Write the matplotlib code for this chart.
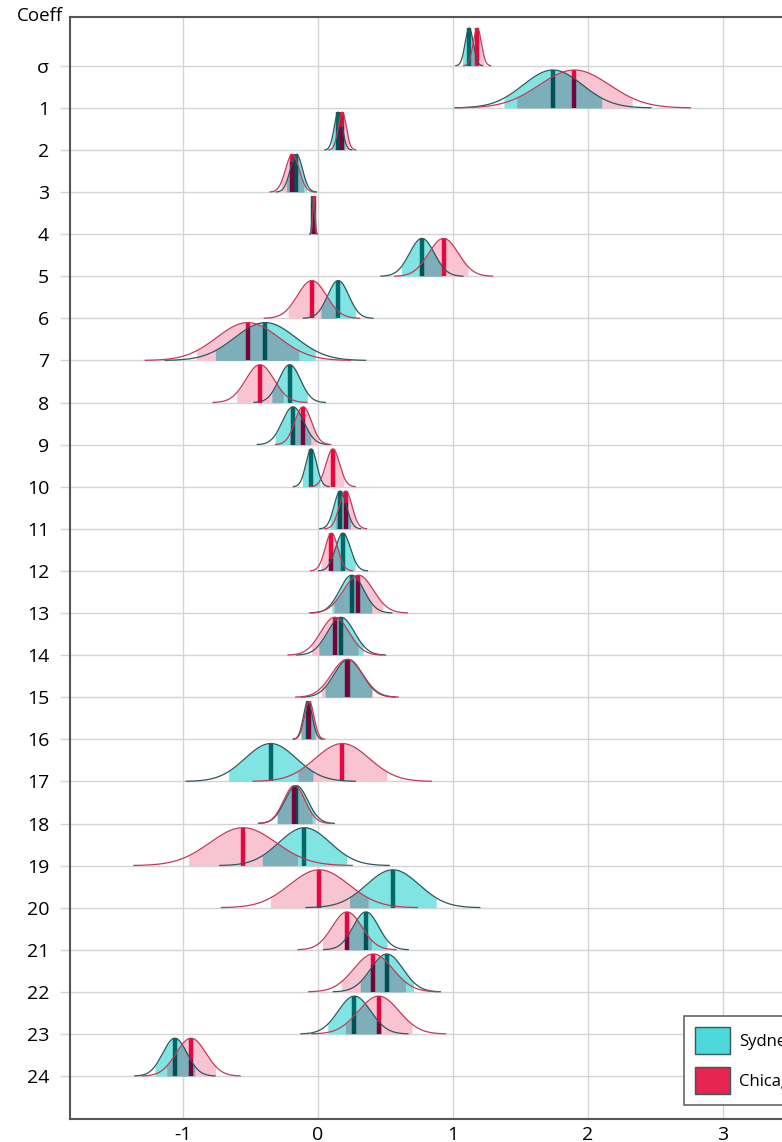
import numpy as np
import matplotlib.pyplot as plt
from matplotlib.patches import Patch

plt.rcParams['font.family'] = ['Open Sans', 'DejaVu Sans']

# Coeficientes (fila 0 = sigma)
coef_labels = ["σ"] + [str(i) for i in range(1, 25)]

# Sydney: mediana y desviación
sydney_median = [1.12, 1.74, 0.15, -0.16, -0.035, 0.77, 0.15, -0.39, -0.21, -0.185,
                 -0.05, 0.165, 0.185, 0.25, 0.17, 0.225, -0.075, -0.35, -0.16, -0.10,
                 0.555, 0.355, 0.51, 0.27, -1.06]
sydney_sd = [0.03, 0.22, 0.03, 0.045, 0.008, 0.092, 0.078, 0.225, 0.08, 0.08,
             0.04, 0.046, 0.055, 0.09, 0.10, 0.105, 0.033, 0.19, 0.085, 0.19,
             0.195, 0.095, 0.12, 0.12, 0.09]

# Chicago
chicago_median = [1.18, 1.90, 0.18, -0.19, -0.03, 0.93, -0.045, -0.52, -0.43, -0.11,
                  0.11, 0.205, 0.10, 0.30, 0.125, 0.215, -0.065, 0.18, -0.175, -0.555,
                  0.01, 0.215, 0.41, 0.45, -0.94]
chicago_sd = [0.03, 0.26, 0.03, 0.05, 0.008, 0.11, 0.107, 0.23, 0.105, 0.062,
              0.05, 0.047, 0.047, 0.11, 0.105, 0.115, 0.035, 0.20, 0.08, 0.245,
              0.22, 0.11, 0.145, 0.15, 0.11]

series_names = ["Sydney", "Chicago"]

# Estilo
alto_pico = 0.9       # altura del pico (en filas)
z_ci = 1.645          # intervalo sombreado (90%)
z_cola = 3.3          # hasta donde se dibuja la curva

syd_fill = np.array([128, 228, 226]) / 255
chi_fill = np.array([249, 196, 210]) / 255
syd_med = np.array([0, 104, 104]) / 255
chi_med = np.array([232, 6, 63]) / 255
syd_edge = "#2b585c"
chi_edge = "#c23a58"
# colores "multiply" donde se solapan
solape_fill = syd_fill * chi_fill
chi_med_en_syd = chi_med * syd_fill
syd_med_en_chi = syd_med * chi_fill


def curva(x, m, s):
    return alto_pico * np.exp(-0.5 * ((x - m) / s) ** 2)


fig = plt.figure(figsize=(7.82, 11.42), dpi=100)
W, H = 782, 1142
x_min, x_max = -1.837, 3.9
px_unidad = 135
ax = fig.add_axes([70 / W, (H - 1119) / H, (x_max - x_min) * px_unidad / W, (1119 - 17) / H])

for i in range(len(coef_labels)):
    mS, sS = sydney_median[i], sydney_sd[i]
    mC, sC = chicago_median[i], chicago_sd[i]
    loS, hiS = mS - z_ci * sS, mS + z_ci * sS
    loC, hiC = mC - z_ci * sC, mC + z_ci * sC

    # sombreado del intervalo
    xs = np.linspace(loS, hiS, 300)
    ax.fill_between(xs, i, i - curva(xs, mS, sS), color=syd_fill, lw=0, zorder=2)
    xs = np.linspace(loC, hiC, 300)
    ax.fill_between(xs, i, i - curva(xs, mC, sC), color=chi_fill, lw=0, zorder=2)
    lo, hi = max(loS, loC), min(hiS, hiC)
    if hi > lo:
        xs = np.linspace(lo, hi, 300)
        y = np.minimum(curva(xs, mS, sS), curva(xs, mC, sC))
        ax.fill_between(xs, i, i - y, color=solape_fill, lw=0, zorder=3)

    # medianas (parte oscura donde cae dentro del sombreado de la otra serie)
    for m, col, lo2, hi2, m2, s2, col_osc in [
            (mS, syd_med, loC, hiC, mC, sC, syd_med_en_chi),
            (mC, chi_med, loS, hiS, mS, sS, chi_med_en_syd)]:
        corte = 0.0
        if lo2 <= m <= hi2:
            corte = min(alto_pico, curva(m, m2, s2))
            ax.plot([m, m], [i, i - corte], color=col_osc, lw=3.2,
                    solid_capstyle="butt", zorder=4)
        ax.plot([m, m], [i - corte, i - alto_pico], color=col, lw=3.2,
                solid_capstyle="butt", zorder=4)

    # contornos
    xs = np.linspace(mS - z_cola * sS, mS + z_cola * sS, 400)
    ax.plot(xs, i - curva(xs, mS, sS), color=syd_edge, lw=0.9, zorder=5)
    xs = np.linspace(mC - z_cola * sC, mC + z_cola * sC, 400)
    ax.plot(xs, i - curva(xs, mC, sC), color=chi_edge, lw=0.9, zorder=5)

ax.set_xlim(x_min, x_max)
ax.set_ylim(25.02, -1.16)
ax.set_yticks(range(len(coef_labels)))
ax.set_yticklabels(coef_labels)
ax.set_xticks([-1, 0, 1, 2, 3])
ax.set_xticklabels(["-1", "0", "1", "2", "3"])
ax.set_axisbelow(True)
ax.grid(True, color="#d4d4d4", lw=1)
ax.tick_params(axis="y", length=7, width=1, color="#d4d4d4", pad=8, labelsize=14)
ax.tick_params(axis="x", length=0, pad=5, labelsize=14)
for lado in ["left", "top", "bottom"]:
    ax.spines[lado].set_color("#555555")
    ax.spines[lado].set_linewidth(1.5)
ax.spines["right"].set_visible(False)

fig.text(63 / W, 1 - 16 / H, "Coeff", ha="right", va="center", fontsize=13.5)

# leyenda (recortada por el borde derecho, como en el original)
handles = [Patch(facecolor="#4dd8dc", edgecolor="#3a5a5a", lw=1),
           Patch(facecolor="#e62550", edgecolor="#3a5a5a", lw=1)]
leg = ax.legend(handles, series_names, loc="upper left",
                bbox_to_anchor=(684 / W, 1 - 1016 / H), bbox_transform=fig.transFigure,
                borderaxespad=0, fontsize=12, handlelength=2.1, handleheight=2.1,
                handletextpad=0.55, labelspacing=0.8, borderpad=0.66,
                fancybox=False, framealpha=1)
leg.get_frame().set_edgecolor("#666666")
leg.get_frame().set_linewidth(1.2)

fig.savefig("out.png", dpi=100)
